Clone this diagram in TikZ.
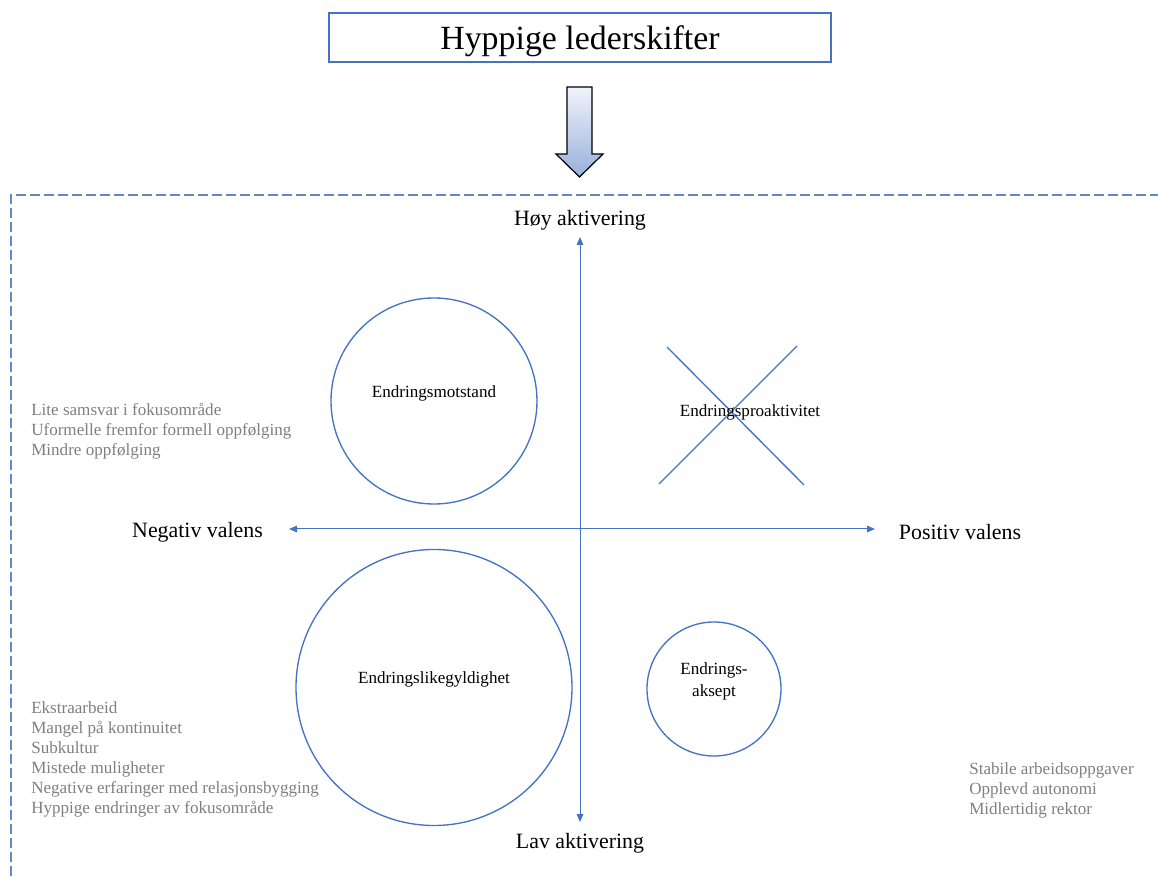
\documentclass[tikz,border=0pt]{standalone}
\usepackage{fontspec}
\setmainfont{Liberation Serif}
\usetikzlibrary{arrows.meta}
\definecolor{axisblue}{HTML}{4472C4}
\definecolor{dashblue}{HTML}{5F88CE}
\definecolor{graytext}{HTML}{7F7F7F}
\definecolor{arrowtop}{HTML}{F0F3FA}
\definecolor{arrowbot}{HTML}{98B0DB}
\tikzset{
  axisline/.style={draw=axisblue, line width=0.75pt, {Triangle[length=6pt,width=5pt]}-{Triangle[length=6pt,width=5pt]}},
  circ/.style={circle, draw=axisblue, line width=1pt, inner sep=0pt},
  xline/.style={draw=axisblue, line width=1pt},
  axislabel/.style={font=\fontsize{16.4}{19}\selectfont, inner sep=0pt},
  circlabel/.style={font=\fontsize{12.8}{16.5}\selectfont, inner sep=0pt, align=center},
  graylist/.style={font=\fontsize{12.8}{15}\selectfont, text=graytext, align=left, anchor=north west, inner sep=0pt},
  titlebox/.style={draw=axisblue, line width=1.1pt, minimum width=376.5pt, minimum height=36.75pt},
  titletext/.style={font=\fontsize{25.4}{28}\selectfont, inner sep=0pt},
  borderline/.style={draw=dashblue, line width=1.5pt, dash pattern=on 7.5pt off 3pt},
}
\begin{document}
\begin{tikzpicture}[x=0.75pt, y=-0.75pt]
\useasboundingbox (0,0) rectangle (1158,877);
\clip (0,0) rectangle (1158,877);
% title
\node[titlebox] (title) at (580,37.5) {};
\node[titletext] (titlelbl) at (580,41) {Hyppige lederskifter};
% block arrow
\shadedraw[top color=arrowtop, bottom color=arrowbot, draw=black, line width=0.9pt, line join=miter]
  (567,87) -- (592,87) -- (592,154) -- (603,154) -- (579.5,177) -- (556,154) -- (567,154) -- cycle;
% dashed border
\coordinate (bl) at (11,890);
\coordinate (tl) at (11,195);
\coordinate (tr) at (1170,195);
\draw[borderline] (bl) -- (tl) -- (tr);
% axes
\coordinate (ytop) at (580,237);
\coordinate (ybot) at (580,822);
\coordinate (xleft) at (289,529);
\coordinate (xright) at (875,529);
\draw[axisline] (ytop) -- (ybot);
\draw[axisline] (xleft) -- (xright);
% axis labels
\node[axislabel] (hoy) at (580,220.5) {Høy aktivering};
\node[axislabel] (lav) at (580,843.5) {Lav aktivering};
\node[axislabel] (neg) at (197.5,532) {Negativ valens};
\node[axislabel] (pos) at (960,532) {Positiv valens};
% circles
\node[circ, minimum size=154.5pt] (motstand) at (434,401) {};
\node[circlabel] (motstandlbl) at (434,393) {Endringsmotstand};
\node[circ, minimum size=207pt] (likegyldig) at (434,687.5) {};
\node[circlabel] (likegyldiglbl) at (434,679) {Endringslikegyldighet};
\node[circ, minimum size=100.5pt] (aksept) at (714,689) {};
\node[circlabel] (akseptlbl) at (714,681) {Endrings-\\aksept};
% cross
\coordinate (xa1) at (667,347);
\coordinate (xa2) at (804,485);
\coordinate (xb1) at (797,346);
\coordinate (xb2) at (659,484);
\draw[xline] (xa1) -- (xa2);
\draw[xline] (xb1) -- (xb2);
\node[circlabel] (proaktiv) at (750,412) {Endringsproaktivitet};
% gray lists
\node[graylist] (list1) at (31,403) {Lite samsvar i fokusområde\\Uformelle fremfor formell oppfølging\\Mindre oppfølging};
\node[graylist] (list2) at (31,701) {Ekstraarbeid\\Mangel på kontinuitet\\Subkultur\\Mistede muligheter\\Negative erfaringer med relasjonsbygging\\Hyppige endringer av fokusområde};
\node[graylist] (list3) at (969,762) {Stabile arbeidsoppgaver\\Opplevd autonomi\\Midlertidig rektor};
\end{tikzpicture}
\end{document}
